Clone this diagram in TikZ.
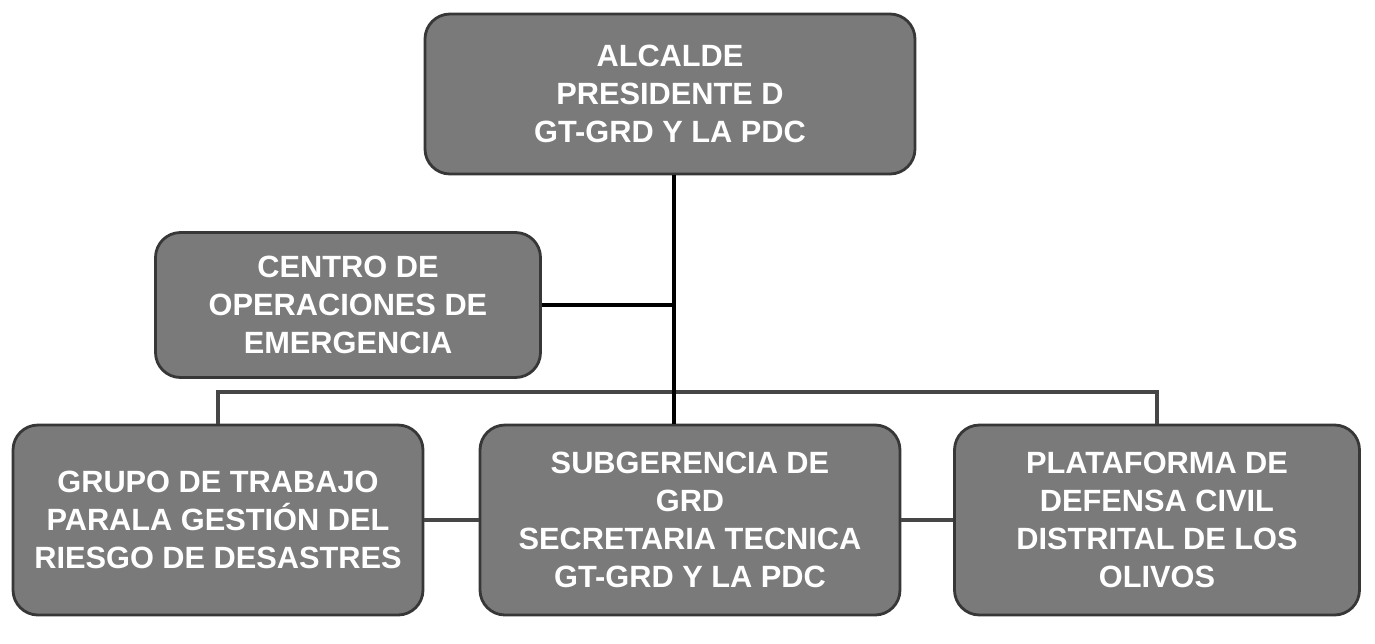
\documentclass[tikz,border=0pt]{standalone}
\usepackage{fontspec}
\setmainfont{Liberation Sans}
\definecolor{boxgray}{RGB}{122,122,122}
\definecolor{edgegray}{RGB}{55,55,55}
\definecolor{linegray}{RGB}{70,70,70}
\begin{document}
\begin{tikzpicture}[thick]
    \tikzstyle{unit}=[draw=edgegray, line width=1.6pt, fill=boxgray, rounded corners=0.5cm,
        text=white, font=\fontsize{17.5}{21.5}\selectfont\bfseries, align=center, inner sep=0pt]
    \tikzstyle{trunk}=[black, line width=2.4pt]
    \tikzstyle{branch}=[linegray, line width=2.2pt]

    \useasboundingbox (0, 0) rectangle (27.5, -12.86);

    % top
    \node[unit, minimum width=9.8cm, minimum height=3.2cm] (alcalde) at (13.4, -1.88)
        {ALCALDE\\PRESIDENTE D\\GT-GRD Y LA PDC};
    \node[unit, minimum width=7.7cm, minimum height=2.9cm] (coe) at (6.96, -6.1)
        {CENTRO DE\\OPERACIONES DE\\EMERGENCIA};

    % bottom row
    \node[unit, minimum width=8.2cm, minimum height=3.8cm] (grupo) at (4.36, -10.4)
        {GRUPO DE TRABAJO\\PARALA GESTIÓN DEL\\RIESGO DE DESASTRES};
    \node[unit, minimum width=8.4cm, minimum height=3.8cm] (sub) at (13.8, -10.4)
        {SUBGERENCIA DE\\GRD\\SECRETARIA TECNICA\\GT-GRD Y LA PDC};
    \node[unit, minimum width=8.1cm, minimum height=3.8cm] (plat) at (23.14, -10.4)
        {PLATAFORMA DE\\DEFENSA CIVIL\\DISTRITAL DE LOS\\OLIVOS};

    \coordinate (bar) at (13.48, -7.84);

    % connectors
    \draw[branch] (grupo.north) |- (bar) -| (plat.north);
    \draw[branch] (grupo.east) -- (sub.west);
    \draw[branch] (sub.east) -- (plat.west);
    \draw[trunk] (coe.east) -- (coe.east -| bar);
    \draw[trunk] (alcalde.south -| bar) -- (bar |- sub.north);
\end{tikzpicture}
\end{document}
